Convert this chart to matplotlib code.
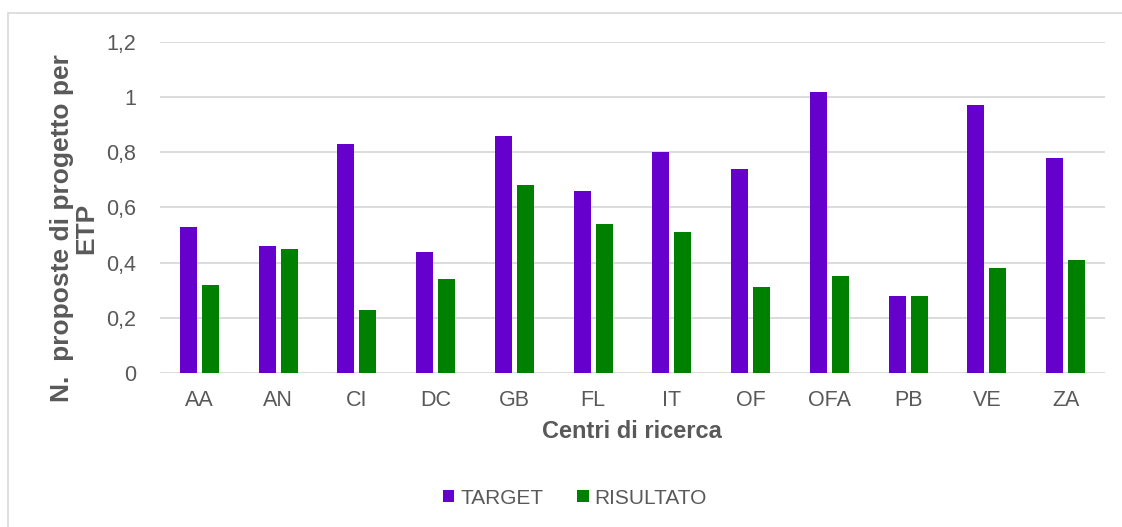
import numpy as np
import matplotlib
matplotlib.use("Agg")
import matplotlib.pyplot as plt
from matplotlib.patches import Rectangle

plt.rcParams['font.family'] = ['Liberation Sans', 'DejaVu Sans']

centri = ['AA', 'AN', 'CI', 'DC', 'GB', 'FL', 'IT', 'OF', 'OFA', 'PB', 'VE', 'ZA']
target = [0.53, 0.46, 0.83, 0.44, 0.86, 0.66, 0.80, 0.74, 1.02, 0.28, 0.97, 0.78]
risultato = [0.32, 0.45, 0.23, 0.34, 0.68, 0.54, 0.51, 0.31, 0.35, 0.28, 0.38, 0.41]
yticks = [0, 0.2, 0.4, 0.6, 0.8, 1.0, 1.2]
ytick_labels = ['0', '0,2', '0,4', '0,6', '0,8', '1', '1,2']

W, H = 1122, 527
testo = '#595959'
griglia = '#D9D9D9'

fig = plt.figure(figsize=(W / 100, H / 100), dpi=100)
ax = fig.add_axes([160 / W, 1 - 373 / H, (1105 - 160) / W, (373 - 42) / H])

x = np.arange(len(centri))
bw = 0.216
off = 0.14
ax.bar(x - off, target, width=bw, color='#6600CC', label='TARGET', zorder=3)
ax.bar(x + off, risultato, width=bw, color='#008000', label='RISULTATO', zorder=3)

ax.set_xlim(-0.5, len(centri) - 0.5)
ax.set_ylim(0, 1.2)
ax.set_yticks(yticks)
ax.set_yticklabels(ytick_labels)
ax.set_xticks(x)
ax.set_xticklabels(centri)
ax.tick_params(axis='both', length=0, labelsize=15.5, labelcolor=testo)
ax.tick_params(axis='y', pad=17)
ax.tick_params(axis='x', pad=12)
ax.grid(axis='y', color=griglia, linewidth=1.3, zorder=0)
for s in ax.spines.values():
    s.set_visible(False)

fig.text(632 / W, 1 - 432 / H, 'Centri di ricerca', ha='center', va='center',
         fontsize=17, fontweight='bold', color=testo)
fig.text(74 / W, 1 - 228 / H, 'N.  proposte di progetto per\nETP', ha='center', va='center',
         rotation=90, multialignment='center', fontsize=19, fontweight='bold',
         color=testo, linespacing=1.0)

leg = fig.legend(loc='center', bbox_to_anchor=(575 / W, 1 - 498 / H), ncol=2, frameon=False,
                 fontsize=15, handlelength=0.55, handleheight=0.55, handletextpad=0.3,
                 columnspacing=1.6)
for t in leg.get_texts():
    t.set_color(testo)

fig.patches.append(Rectangle((8 / W, -0.05), 1.2, (H - 13) / H + 0.05, transform=fig.transFigure,
                             fill=False, edgecolor=griglia, linewidth=1.2))

fig.savefig('out.png', dpi=100)
